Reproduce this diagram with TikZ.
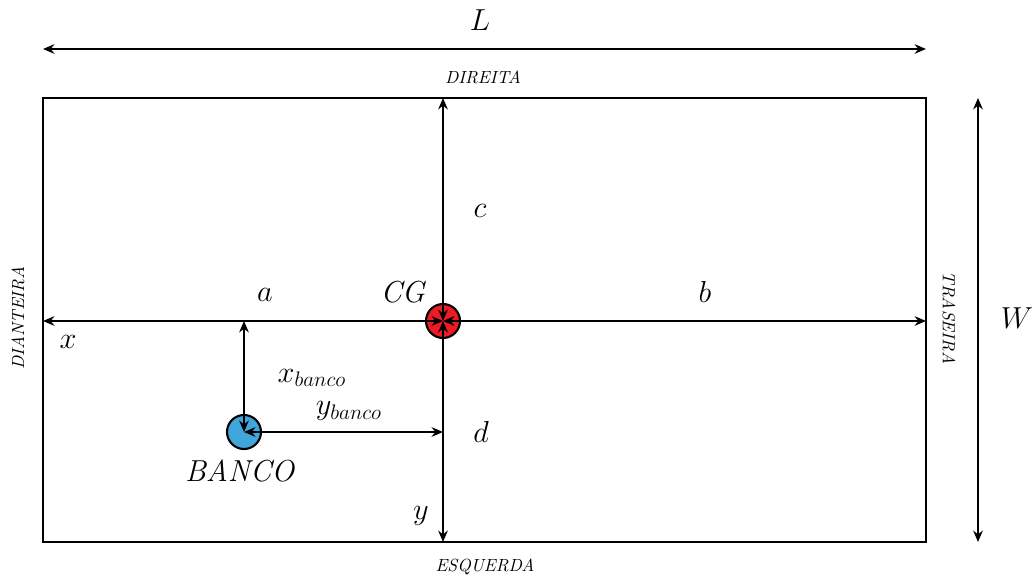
\documentclass[tikz,border=0pt]{standalone}
\usetikzlibrary{arrows.meta}
\definecolor{cgred}{RGB}{237,28,36}
\definecolor{bancoblue}{RGB}{64,166,220}
\begin{document}
\begin{tikzpicture}[x=0.02cm, y=-0.02cm, >={Stealth[length=6.5pt, width=5.5pt]}, line width=1.1pt,
  lbl/.style={font=\LARGE},
  side/.style={font=\itshape},
  mass/.style={draw, circle, minimum size=0.68cm, inner sep=0pt, line width=1.2pt}]
\useasboundingbox (0,0) rectangle (1032,578);
\draw (43,98) rectangle (926,542);
\node[mass, fill=cgred] (cg) at (443,321) {};
\node[mass, fill=bancoblue] (banco) at (244,432) {};
\coordinate (front) at (43,321);
\coordinate (rear) at (926,321);
\coordinate (right) at (443,98);
\coordinate (left) at (443,542);
\coordinate (xb) at (244,321);
\coordinate (yb) at (443,432);
\draw[<->] (front) -- (cg.center);
\draw[<->] (cg.center) -- (rear);
\draw[<->] (cg.center) -- (right);
\draw[<->] (cg.center) -- (left);
\draw[<->] (banco.center) -- (xb);
\draw[<->] (banco.center) -- (yb);
\coordinate (l1) at (43,49);
\coordinate (l2) at (926,49);
\coordinate (w1) at (978,98);
\coordinate (w2) at (978,542);
\draw[<->] (l1) -- (l2);
\draw[<->] (w1) -- (w2);
\node[lbl] (lL) at (480,20) {$L$};
\node[lbl] (lW) at (1017,318) {$W$};
\node[lbl] (la) at (265,295) {$a$};
\node[lbl] (lb) at (705,292) {$b$};
\node[lbl] (lc) at (480,211) {$c$};
\node[lbl] (ld) at (481,432) {$d$};
\node[lbl] (lx) at (68,342) {$x$};
\node[lbl] (ly) at (421,516) {$y$};
\node[lbl] (lcg) at (404,292) {$\mathit{CG}$};
\node[lbl] (lxb) at (312,378) {$x_{banco}$};
\node[lbl] (lyb) at (349,411) {$y_{banco}$};
\node[lbl] (lbanco) at (241,471) {$\mathit{BANCO}$};
\node[side] (dir) at (483,77) {DIREITA};
\node[side] (esq) at (485,567) {ESQUERDA};
\node[side, rotate=90] (dia) at (18,318) {DIANTEIRA};
\node[side, rotate=-90] (tra) at (949,318) {TRASEIRA};
\end{tikzpicture}
\end{document}
